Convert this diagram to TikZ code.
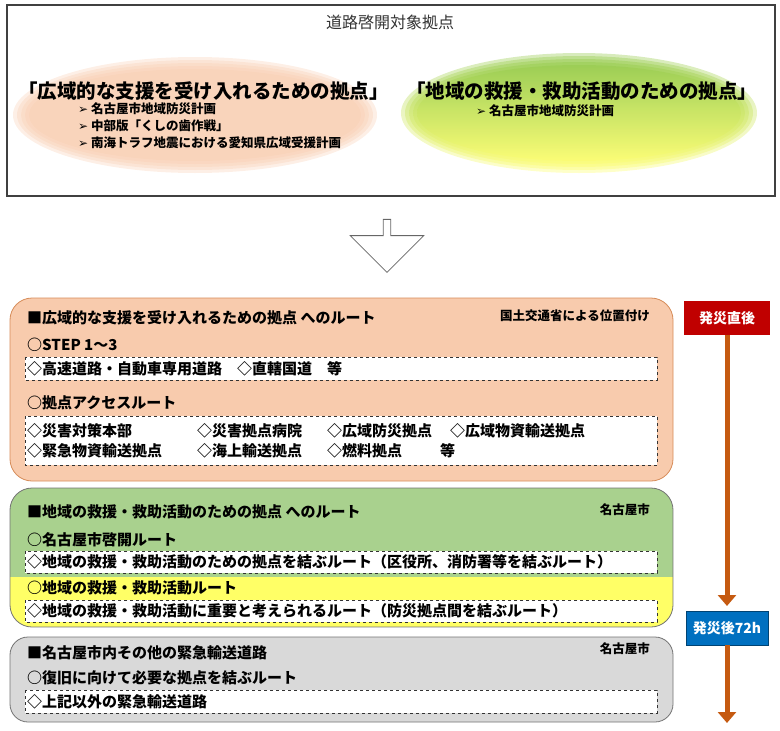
\documentclass[tikz,border=0pt]{standalone}
\usepackage{fontspec}
\setmainfont{Noto Sans CJK JP}
\newfontfamily\symf{DejaVu Sans}
\usetikzlibrary{arrows.meta,shapes.arrows}
\definecolor{peach}{HTML}{F8CBAD}
\definecolor{grn}{HTML}{A9D18E}
\definecolor{yel}{HTML}{FFFF66}
\definecolor{gry}{HTML}{D9D9D9}
\definecolor{org}{HTML}{C55A11}
\definecolor{redb}{HTML}{C00000}
\definecolor{blub}{HTML}{0070C0}
\definecolor{lgrn}{HTML}{8CC63F}
\tikzset{
  lbl/.style={anchor=west,inner sep=0pt,font=\fontsize{15}{17}\selectfont\bfseries},
  sml/.style={anchor=east,inner sep=0pt,font=\fontsize{12.5}{14}\selectfont\bfseries},
  sub/.style={anchor=west,inner sep=0pt,font=\fontsize{12.5}{14}\selectfont\bfseries},
  big/.style={anchor=west,inner sep=0pt,font=\fontsize{19.5}{22}\selectfont\bfseries},
  dbox/.style={draw=black!80,dashed,fill=white},
  tbox/.style={minimum width=86pt,minimum height=34pt,text=white,font=\fontsize{14}{16}\selectfont\bfseries},
  tarrow/.style={draw=org,line width=5pt,-{Triangle[length=11pt,width=18pt]}}
}
\newcommand{\arr}{{\symf\fontsize{12}{14}\selectfont ➢}\ }
\begin{document}
\begin{tikzpicture}[x=1pt,y=-1pt]
\useasboundingbox (0,0) rectangle (780,731);
% top box
\draw[black!75,line width=1.2pt] (7,5) rectangle (775,196);
\node[font=\fontsize{16}{18}\selectfont,text=black!80] (ttl) at (390,22) {道路啓開対象拠点};
\foreach \k in {0,1,2,3,4}{
  \fill[peach,opacity=0.3] (195,115) ellipse [x radius={182-4*\k},y radius={58-3*\k}];}
\foreach \k in {0,1,2,3,4}{
  \shade[top color=lgrn,bottom color=yel,opacity=0.35] (579,113) ellipse [x radius={178-4*\k},y radius={60-3*\k}];}
\node[big] (l1) at (18,91) {「広域的な支援を受け入れるための拠点」};
\node[sub] (l2) at (78,109) {\arr 名古屋市地域防災計画};
\node[sub] (l3) at (78,126) {\arr 中部版「くしの歯作戦」};
\node[sub] (l4) at (78,143) {\arr 南海トラフ地震における愛知県広域受援計画};
\node[big] (r1) at (406,91) {「地域の救援・救助活動のための拠点」};
\node[sub] (r2) at (476,111) {\arr 名古屋市地域防災計画};
% open arrow
\node[draw=black!60,fill=white,single arrow,shape border rotate=270,minimum width=62pt,single arrow head extend=33pt,single arrow head indent=0pt,minimum height=53pt,line width=0.8pt] (oa) at (387,244) {};
% box 1
\draw[draw=org!70,fill=peach,rounded corners=22pt,line width=0.8pt] (10,298) rectangle (673,481);
\node[lbl] (b1h) at (27,318) {■広域的な支援を受け入れるための拠点 へのルート};
\node[sml] (b1r) at (650,316) {国土交通省による位置付け};
\node[lbl] (b1a) at (27,345) {○STEP 1～3};
\draw[dbox] (25,357) rectangle (657,380);
\node[lbl] (b1b) at (27,369) {◇高速道路・自動車専用道路\quad◇直轄国道\quad 等};
\node[lbl] (b1c) at (27,403) {○拠点アクセスルート};
\draw[dbox] (25,416) rectangle (657,465);
\node[lbl] (b1d) at (27,431) {◇災害対策本部};
\node[lbl] (b1e) at (197,431) {◇災害拠点病院};
\node[lbl] (b1f) at (327,431) {◇広域防災拠点};
\node[lbl] (b1g) at (450,431) {◇広域物資輸送拠点};
\node[lbl] (b1i) at (27,451) {◇緊急物資輸送拠点};
\node[lbl] (b1j) at (197,451) {◇海上輸送拠点};
\node[lbl] (b1k) at (327,451) {◇燃料拠点};
\node[lbl] (b1l) at (440,451) {等};
% box 2
\begin{scope}
\clip[rounded corners=22pt] (10,488) rectangle (673,627);
\fill[grn] (10,488) rectangle (673,577);
\fill[yel] (10,577) rectangle (673,627);
\end{scope}
\draw[draw=black!55,rounded corners=22pt,line width=0.8pt] (10,488) rectangle (673,627);
\node[lbl] (b2h) at (27,512) {■地域の救援・救助活動のための拠点 へのルート};
\node[sml] (b2r) at (650,510) {名古屋市};
\node[lbl] (b2a) at (27,540) {○名古屋市啓開ルート};
\draw[dbox] (25,551) rectangle (657,573);
\node[lbl] (b2b) at (27,562) {◇地域の救援・救助活動のための拠点を結ぶルート（区役所、消防署等を結ぶルート）};
\node[lbl] (b2c) at (27,588) {○地域の救援・救助活動ルート};
\draw[dbox] (25,600) rectangle (657,622);
\node[lbl] (b2d) at (27,611) {◇地域の救援・救助活動に重要と考えられるルート（防災拠点間を結ぶルート）};
% box 3
\draw[draw=black!55,fill=gry,rounded corners=18pt,line width=0.8pt] (10,637) rectangle (673,722);
\node[lbl] (b3h) at (27,653) {■名古屋市内その他の緊急輸送道路};
\node[sml] (b3r) at (650,649) {名古屋市};
\node[lbl] (b3a) at (27,678) {○復旧に向けて必要な拠点を結ぶルート};
\draw[dbox] (25,690) rectangle (657,713);
\node[lbl] (b3b) at (27,702) {◇上記以外の緊急輸送道路};
% timeline
\node[tbox,fill=redb] (t1) at (727,318) {発災直後};
\node[tbox,fill=blub,draw=blub!60!black,minimum width=82pt] (t2) at (727,628) {発災後72h};
\coordinate (e1) at (727,606);
\coordinate (e2) at (727,723);
\draw[tarrow] (t1.south) -- (e1);
\draw[tarrow] (t2.south) -- (e2);
\end{tikzpicture}
\end{document}
